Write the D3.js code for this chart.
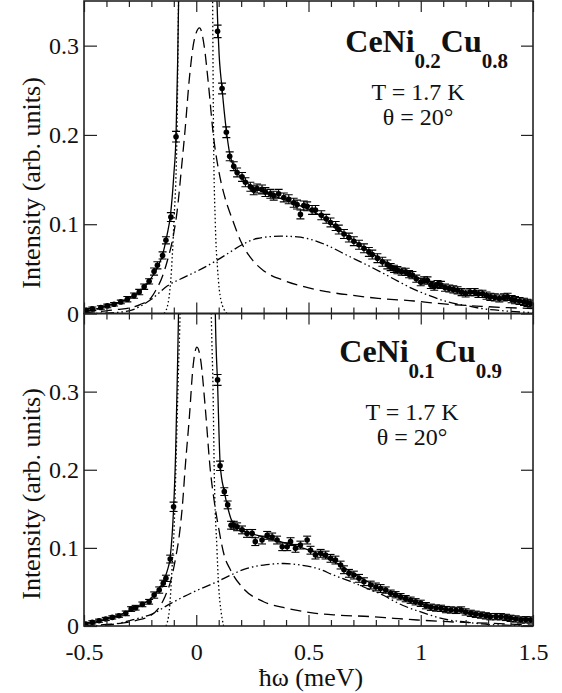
<!DOCTYPE html>
<html>
<head>
<meta charset="utf-8">
<script src="https://cdn.jsdelivr.net/npm/d3@7"></script>
<style>
  body { margin: 0; background: #fff; }
  svg text { font-family: "Liberation Serif", Tinos, "Times New Roman", "DejaVu Serif", serif; fill: #111; }
</style>
</head>
<body>
<div id="chart"></div>
<script>
// axis ticks and labels
const xTicks = [-0.5, 0, 0.5, 1, 1.5];
const xTickLabels = ["-0.5", "0", "0.5", "1", "1.5"];
const xMinorTicks = [-0.4, -0.3, -0.2, -0.1, 0.1, 0.2, 0.3, 0.4, 0.6, 0.7, 0.8, 0.9, 1.1, 1.2, 1.3, 1.4];
const yTicks = [0, 0.1, 0.2, 0.3];
const yTickLabels = ["0", "0.1", "0.2", "0.3"];

// ---- CeNi0.2Cu0.8 (top panel) : [energy, intensity, error]
const topPoints = [
  [-0.49, 0.0037, 0.002], [-0.463, 0.0052, 0.002], [-0.425, 0.0067, 0.002], [-0.396, 0.0085, 0.002],
  [-0.366, 0.0104, 0.002], [-0.336, 0.013, 0.002], [-0.307, 0.016, 0.003], [-0.277, 0.020, 0.003],
  [-0.254, 0.024, 0.003], [-0.232, 0.030, 0.003], [-0.21, 0.036, 0.003], [-0.188, 0.047, 0.004],
  [-0.173, 0.054, 0.004], [-0.15, 0.065, 0.004], [-0.135, 0.082, 0.004], [-0.113, 0.108, 0.005],
  [-0.09, 0.198, 0.006],
  [0.095, 0.316, 0.007], [0.115, 0.252, 0.006], [0.134, 0.203, 0.006], [0.149, 0.176, 0.005],
  [0.167, 0.165, 0.005], [0.182, 0.158, 0.005], [0.204, 0.153, 0.005], [0.219, 0.147, 0.005],
  [0.241, 0.142, 0.005], [0.256, 0.138, 0.005], [0.271, 0.140, 0.005], [0.293, 0.139, 0.005],
  [0.308, 0.136, 0.005], [0.33, 0.134, 0.005], [0.345, 0.132, 0.005], [0.367, 0.134, 0.005],
  [0.39, 0.130, 0.005], [0.412, 0.128, 0.005], [0.434, 0.124, 0.005], [0.449, 0.122, 0.005],
  [0.464, 0.111, 0.005], [0.479, 0.121, 0.005], [0.494, 0.120, 0.005], [0.516, 0.116, 0.005],
  [0.531, 0.116, 0.005], [0.557, 0.110, 0.005], [0.579, 0.106, 0.005], [0.598, 0.102, 0.005],
  [0.621, 0.098, 0.005], [0.635, 0.094, 0.005], [0.658, 0.089, 0.005], [0.68, 0.085, 0.005],
  [0.702, 0.081, 0.005], [0.725, 0.077, 0.005], [0.747, 0.073, 0.005], [0.769, 0.069, 0.005],
  [0.784, 0.066, 0.005], [0.807, 0.062, 0.005], [0.829, 0.058, 0.005], [0.851, 0.055, 0.005],
  [0.866, 0.052, 0.004], [0.881, 0.050, 0.004], [0.896, 0.0485, 0.004], [0.915, 0.047, 0.004],
  [0.933, 0.0466, 0.004], [0.948, 0.044, 0.004], [0.963, 0.043, 0.004], [0.98, 0.039, 0.004],
  [1.0, 0.035, 0.004], [1.015, 0.037, 0.004], [1.03, 0.037, 0.004], [1.045, 0.032, 0.004],
  [1.06, 0.030, 0.004], [1.075, 0.033, 0.004], [1.09, 0.032, 0.004], [1.108, 0.029, 0.004],
  [1.127, 0.028, 0.004], [1.145, 0.027, 0.004], [1.164, 0.026, 0.004], [1.182, 0.024, 0.004],
  [1.2, 0.0224, 0.004], [1.22, 0.024, 0.004], [1.24, 0.024, 0.004], [1.257, 0.022, 0.004],
  [1.275, 0.022, 0.004], [1.293, 0.020, 0.004], [1.31, 0.0186, 0.004], [1.33, 0.018, 0.004],
  [1.35, 0.0168, 0.004], [1.37, 0.018, 0.004], [1.387, 0.0186, 0.004], [1.405, 0.016, 0.004],
  [1.42, 0.015, 0.004], [1.44, 0.014, 0.004], [1.46, 0.013, 0.004], [1.475, 0.012, 0.004],
  [1.49, 0.011, 0.004]
];
const topFit = [
  [-0.5, 0.003], [-0.45, 0.005], [-0.4, 0.0085], [-0.35, 0.012], [-0.3, 0.017], [-0.25, 0.025],
  [-0.2, 0.040], [-0.17, 0.053], [-0.15, 0.066], [-0.13, 0.088], [-0.115, 0.11], [-0.1, 0.155],
  [-0.09, 0.2], [-0.083, 0.28], [-0.078, 0.36], [-0.06, 0.9], [0, 1.6], [0.07, 0.9], [0.088, 0.4],
  [0.1, 0.3], [0.115, 0.252], [0.134, 0.205], [0.15, 0.178], [0.175, 0.161], [0.2, 0.152],
  [0.25, 0.142], [0.3, 0.136], [0.375, 0.129], [0.45, 0.122], [0.524, 0.114], [0.6, 0.101],
  [0.673, 0.087], [0.75, 0.073], [0.821, 0.061], [0.9, 0.050], [1.0, 0.039], [1.1, 0.031],
  [1.2, 0.024], [1.3, 0.019], [1.4, 0.0145], [1.5, 0.011]
];
const topQuasi = [
  [-0.5, 0.001], [-0.4, 0.003], [-0.35, 0.0045], [-0.3, 0.006], [-0.25, 0.01], [-0.2, 0.018],
  [-0.18, 0.026], [-0.15, 0.042], [-0.13, 0.058], [-0.1, 0.09], [-0.085, 0.115], [-0.065, 0.165],
  [-0.05, 0.205], [-0.03, 0.265], [-0.01, 0.305], [0.015, 0.32], [0.035, 0.3], [0.055, 0.255],
  [0.076, 0.2], [0.1, 0.16], [0.13, 0.128], [0.16, 0.106], [0.2, 0.08], [0.25, 0.06], [0.3, 0.048],
  [0.39, 0.037], [0.48, 0.030], [0.58, 0.0245], [0.69, 0.0205], [0.81, 0.017], [0.97, 0.014],
  [1.09, 0.011], [1.27, 0.008], [1.5, 0.0055]
];
const topElastic = [
  [-0.143, 0], [-0.125, 0.012], [-0.11, 0.05], [-0.1, 0.1], [-0.086, 0.2], [-0.079, 0.35],
  [-0.06, 0.8], [0, 1.3], [0.06, 0.8], [0.073, 0.35], [0.077, 0.2], [0.085, 0.1], [0.095, 0.05],
  [0.11, 0.015], [0.137, 0]
];
const topInelastic = [
  [-0.5, 0], [-0.4, 0.0005], [-0.3, 0.003], [-0.2, 0.016], [-0.128, 0.031], [-0.05, 0.041],
  [0, 0.047], [0.095, 0.06], [0.152, 0.069], [0.204, 0.077], [0.271, 0.084], [0.375, 0.0866],
  [0.45, 0.0858], [0.524, 0.082], [0.598, 0.0746], [0.673, 0.065], [0.747, 0.056], [0.821, 0.0466],
  [0.9, 0.036], [0.97, 0.027], [1.045, 0.0195], [1.12, 0.013], [1.2, 0.009], [1.27, 0.0056],
  [1.35, 0.0035], [1.42, 0.002], [1.5, 0.001]
];

// ---- CeNi0.1Cu0.9 (bottom panel)
const bottomPoints = [
  [-0.492, 0.0026, 0.002], [-0.463, 0.0047, 0.002], [-0.433, 0.0068, 0.002], [-0.403, 0.009, 0.002],
  [-0.374, 0.011, 0.002], [-0.344, 0.0132, 0.002], [-0.314, 0.0162, 0.003], [-0.29, 0.0217, 0.003],
  [-0.27, 0.0234, 0.003], [-0.24, 0.0277, 0.003], [-0.21, 0.031, 0.003], [-0.1875, 0.0396, 0.004],
  [-0.165, 0.046, 0.004], [-0.147, 0.0546, 0.004], [-0.135, 0.061, 0.004], [-0.116, 0.0857, 0.005],
  [-0.101, 0.1526, 0.006],
  [0.095, 0.315, 0.007], [0.106, 0.205, 0.006], [0.125, 0.172, 0.005], [0.14, 0.155, 0.005],
  [0.155, 0.129, 0.005], [0.167, 0.129, 0.005], [0.182, 0.127, 0.005], [0.204, 0.123, 0.005],
  [0.226, 0.1185, 0.005], [0.249, 0.1185, 0.005], [0.263, 0.108, 0.005], [0.293, 0.110, 0.005],
  [0.316, 0.116, 0.005], [0.338, 0.114, 0.005], [0.36, 0.110, 0.005], [0.383, 0.1015, 0.005],
  [0.405, 0.1015, 0.005], [0.42, 0.108, 0.005], [0.442, 0.0994, 0.005], [0.464, 0.1036, 0.005],
  [0.494, 0.110, 0.005], [0.509, 0.097, 0.005], [0.531, 0.0908, 0.005], [0.554, 0.093, 0.005],
  [0.576, 0.0908, 0.005], [0.598, 0.0866, 0.005], [0.62, 0.0844, 0.005], [0.643, 0.078, 0.005],
  [0.658, 0.072, 0.005], [0.68, 0.0674, 0.005], [0.702, 0.0652, 0.005], [0.725, 0.061, 0.005],
  [0.747, 0.0567, 0.005], [0.777, 0.0524, 0.005], [0.8, 0.050, 0.005], [0.821, 0.048, 0.005],
  [0.844, 0.046, 0.004], [0.866, 0.042, 0.004], [0.888, 0.040, 0.004], [0.91, 0.0375, 0.004],
  [0.933, 0.035, 0.004], [0.955, 0.033, 0.004], [0.977, 0.031, 0.004], [1.0, 0.029, 0.004],
  [1.023, 0.026, 0.004], [1.045, 0.024, 0.004], [1.068, 0.023, 0.004], [1.09, 0.0226, 0.004],
  [1.112, 0.021, 0.004], [1.134, 0.0205, 0.004], [1.157, 0.020, 0.004], [1.18, 0.0205, 0.004],
  [1.2, 0.018, 0.004], [1.223, 0.0162, 0.004], [1.245, 0.015, 0.004], [1.268, 0.014, 0.004],
  [1.29, 0.013, 0.004], [1.31, 0.0119, 0.004], [1.335, 0.012, 0.004], [1.357, 0.0119, 0.004],
  [1.38, 0.011, 0.004], [1.4, 0.0098, 0.004], [1.423, 0.009, 0.004], [1.446, 0.0077, 0.004],
  [1.468, 0.008, 0.004], [1.49, 0.0077, 0.004]
];
const bottomFit = [
  [-0.5, 0.003], [-0.45, 0.005], [-0.4, 0.009], [-0.35, 0.013], [-0.3, 0.019], [-0.25, 0.026],
  [-0.2, 0.036], [-0.17, 0.046], [-0.15, 0.055], [-0.13, 0.07], [-0.116, 0.088], [-0.101, 0.15],
  [-0.092, 0.22], [-0.085, 0.31], [-0.079, 0.4], [-0.06, 1.0], [0, 1.8], [0.07, 1.0], [0.085, 0.4],
  [0.095, 0.31], [0.107, 0.205], [0.125, 0.172], [0.14, 0.152], [0.155, 0.137], [0.175, 0.128],
  [0.2, 0.123], [0.25, 0.118], [0.3, 0.114], [0.375, 0.108], [0.45, 0.102], [0.524, 0.095],
  [0.6, 0.085], [0.673, 0.072], [0.75, 0.059], [0.821, 0.048], [0.9, 0.038], [1.0, 0.029],
  [1.1, 0.022], [1.2, 0.018], [1.3, 0.014], [1.4, 0.011], [1.5, 0.009]
];
const bottomQuasi = [
  [-0.5, 0.0005], [-0.4, 0.002], [-0.3, 0.005], [-0.27, 0.007], [-0.2, 0.014], [-0.17, 0.022],
  [-0.14, 0.037], [-0.11, 0.062], [-0.09, 0.09], [-0.076, 0.115], [-0.06, 0.16], [-0.05, 0.2],
  [-0.03, 0.27], [-0.015, 0.33], [0.003, 0.357], [0.02, 0.34], [0.04, 0.28], [0.0625, 0.2],
  [0.08, 0.16], [0.1, 0.125], [0.125, 0.09], [0.152, 0.072], [0.21, 0.048], [0.3, 0.031],
  [0.405, 0.0226], [0.524, 0.0165], [0.628, 0.014], [0.777, 0.012], [0.88, 0.0098],
  [0.985, 0.0077], [1.12, 0.0055], [1.31, 0.0035], [1.5, 0.0012]
];
const bottomElastic = [
  [-0.135, 0], [-0.12, 0.02], [-0.106, 0.084], [-0.098, 0.13], [-0.09, 0.21], [-0.08, 0.32],
  [-0.072, 0.4], [-0.05, 0.9], [0, 1.4], [0.05, 0.9], [0.067, 0.4], [0.075, 0.3], [0.08, 0.2],
  [0.092, 0.1], [0.1, 0.05], [0.11, 0.02], [0.122, 0]
];
const bottomInelastic = [
  [-0.5, 0], [-0.4, 0.001], [-0.336, 0.004], [-0.27, 0.009], [-0.2, 0.015], [-0.113, 0.029],
  [-0.009, 0.044], [0.095, 0.057], [0.152, 0.065], [0.226, 0.0738], [0.3, 0.078], [0.39, 0.080],
  [0.464, 0.078], [0.539, 0.0738], [0.613, 0.065], [0.687, 0.057], [0.762, 0.048], [0.836, 0.039],
  [0.9, 0.029], [1.0, 0.018], [1.12, 0.008], [1.2, 0.005], [1.27, 0.0026], [1.38, 0.001], [1.5, 0]
];

const W = 562, H = 693;
const left = 84, right = 533;

const svg = d3.select("#chart")
  .append("svg")
    .attr("width", W)
    .attr("height", H);

const x = d3.scaleLinear().domain([-0.5, 1.5]).range([left, right]);

const panels = [
  { top: 1, bottom: 313.5, yMax: 0.35, points: topPoints, fit: topFit, quasi: topQuasi,
    elastic: topElastic, inelastic: topInelastic, xLabels: false,
    title: ["CeNi", "0.2", "Cu", "0.8"], titleX: 508, titleY: 52,
    infoX: 418, infoY: 100, labelY: 183 },
  { top: 313.5, bottom: 626, yMax: 0.4, points: bottomPoints, fit: bottomFit, quasi: bottomQuasi,
    elastic: bottomElastic, inelastic: bottomInelastic, xLabels: true,
    title: ["CeNi", "0.1", "Cu", "0.9"], titleX: 502, titleY: 362,
    infoX: 412, infoY: 420, labelY: 494 }
];

function styleAxis(g) {
  g.select(".domain").remove();
  g.selectAll(".tick line").attr("stroke", "#222").attr("stroke-width", 1.2);
  g.attr("font-family", null).attr("font-size", null);
  g.selectAll(".tick text").style("font-size", "24px");
}

panels.forEach((p, i) => {
  const y = d3.scaleLinear().domain([0, p.yMax]).range([p.bottom, p.top]);

  svg.append("clipPath")
      .attr("id", "clip" + i)
    .append("rect")
      .attr("x", left)
      .attr("y", p.top)
      .attr("width", right - left)
      .attr("height", p.bottom - p.top);

  const plot = svg.append("g").attr("clip-path", `url(#clip${i})`);

  const line = d3.line()
    .x(d => x(d[0]))
    .y(d => y(d[1]))
    .curve(d3.curveMonotoneX);

  // model curves
  plot.append("path").datum(p.inelastic)
    .attr("d", line).attr("fill", "none").attr("stroke", "#000")
    .attr("stroke-width", 1.3).attr("stroke-dasharray", "9,3,1.5,3,1.5,3");
  plot.append("path").datum(p.quasi)
    .attr("d", line).attr("fill", "none").attr("stroke", "#000")
    .attr("stroke-width", 1.3).attr("stroke-dasharray", "11,6");
  plot.append("path").datum(p.elastic)
    .attr("d", line).attr("fill", "none").attr("stroke", "#000")
    .attr("stroke-width", 1.3).attr("stroke-dasharray", "1.5,2.5");
  plot.append("path").datum(p.fit)
    .attr("d", line).attr("fill", "none").attr("stroke", "#000")
    .attr("stroke-width", 1.3);

  // data points with error bars
  const pts = plot.selectAll(".pt")
    .data(p.points)
    .join("g")
      .attr("class", "pt");
  pts.append("line")
    .attr("x1", d => x(d[0])).attr("x2", d => x(d[0]))
    .attr("y1", d => y(d[1] - d[2])).attr("y2", d => y(d[1] + d[2]))
    .attr("stroke", "#000").attr("stroke-width", 1.1);
  pts.append("line")
    .attr("x1", d => x(d[0]) - 4).attr("x2", d => x(d[0]) + 4)
    .attr("y1", d => y(d[1] + d[2])).attr("y2", d => y(d[1] + d[2]))
    .attr("stroke", "#000").attr("stroke-width", 1.1);
  pts.append("line")
    .attr("x1", d => x(d[0]) - 4).attr("x2", d => x(d[0]) + 4)
    .attr("y1", d => y(d[1] - d[2])).attr("y2", d => y(d[1] - d[2]))
    .attr("stroke", "#000").attr("stroke-width", 1.1);
  pts.append("circle")
    .attr("cx", d => x(d[0]))
    .attr("cy", d => y(d[1]))
    .attr("r", 2.8)
    .attr("fill", "#000");

  // ticks, all pointing inwards
  svg.append("g")
    .attr("transform", `translate(0,${p.top})`)
    .call(d3.axisTop(x).tickValues(xTicks).tickSize(-11).tickFormat(""))
    .call(styleAxis);
  svg.append("g")
    .attr("transform", `translate(0,${p.top})`)
    .call(d3.axisTop(x).tickValues(xMinorTicks).tickSize(-6).tickFormat(""))
    .call(styleAxis);
  svg.append("g")
    .attr("transform", `translate(0,${p.bottom})`)
    .call(d3.axisBottom(x).tickValues(xTicks).tickSize(-11).tickPadding(17)
      .tickFormat((d, k) => p.xLabels ? xTickLabels[k] : ""))
    .call(styleAxis);
  svg.append("g")
    .attr("transform", `translate(0,${p.bottom})`)
    .call(d3.axisBottom(x).tickValues(xMinorTicks).tickSize(-6).tickFormat(""))
    .call(styleAxis);
  svg.append("g")
    .attr("transform", `translate(${left},0)`)
    .call(d3.axisLeft(y).tickValues(yTicks).tickSize(-13).tickPadding(5)
      .tickFormat((d, k) => yTickLabels[k]))
    .call(styleAxis);
  svg.append("g")
    .attr("transform", `translate(${right},0)`)
    .call(d3.axisRight(y).tickValues(yTicks).tickSize(-12).tickFormat(""))
    .call(styleAxis);

  // frame
  svg.append("rect")
    .attr("x", left).attr("y", p.top)
    .attr("width", right - left).attr("height", p.bottom - p.top)
    .attr("fill", "none").attr("stroke", "#222").attr("stroke-width", 1.6);

  // y axis title
  svg.append("text")
    .attr("transform", `translate(40,${p.labelY}) rotate(-90)`)
    .attr("text-anchor", "middle")
    .style("font-size", "26px")
    .text("Intensity (arb. units)");

  // compound name with subscripts
  const t = svg.append("text")
    .attr("x", p.titleX).attr("y", p.titleY)
    .attr("text-anchor", "end")
    .style("font-weight", "bold")
    .style("font-size", "32px");
  t.append("tspan").text(p.title[0]);
  t.append("tspan").attr("dy", 16).style("font-size", "21px").text(p.title[1]);
  t.append("tspan").attr("dy", -16).text(p.title[2]);
  t.append("tspan").attr("dy", 16).style("font-size", "21px").text(p.title[3]);

  svg.append("text")
    .attr("x", p.infoX).attr("y", p.infoY)
    .attr("text-anchor", "middle")
    .style("font-size", "24px")
    .text("T = 1.7 K");
  svg.append("text")
    .attr("x", p.infoX).attr("y", p.infoY + 25)
    .attr("text-anchor", "middle")
    .style("font-size", "24px")
    .text("θ = 20°");
});

// x axis title
svg.append("text")
  .attr("x", 311).attr("y", 686)
  .attr("text-anchor", "middle")
  .style("font-size", "26px")
  .text("ħω (meV)");
</script>
</body>
</html>
